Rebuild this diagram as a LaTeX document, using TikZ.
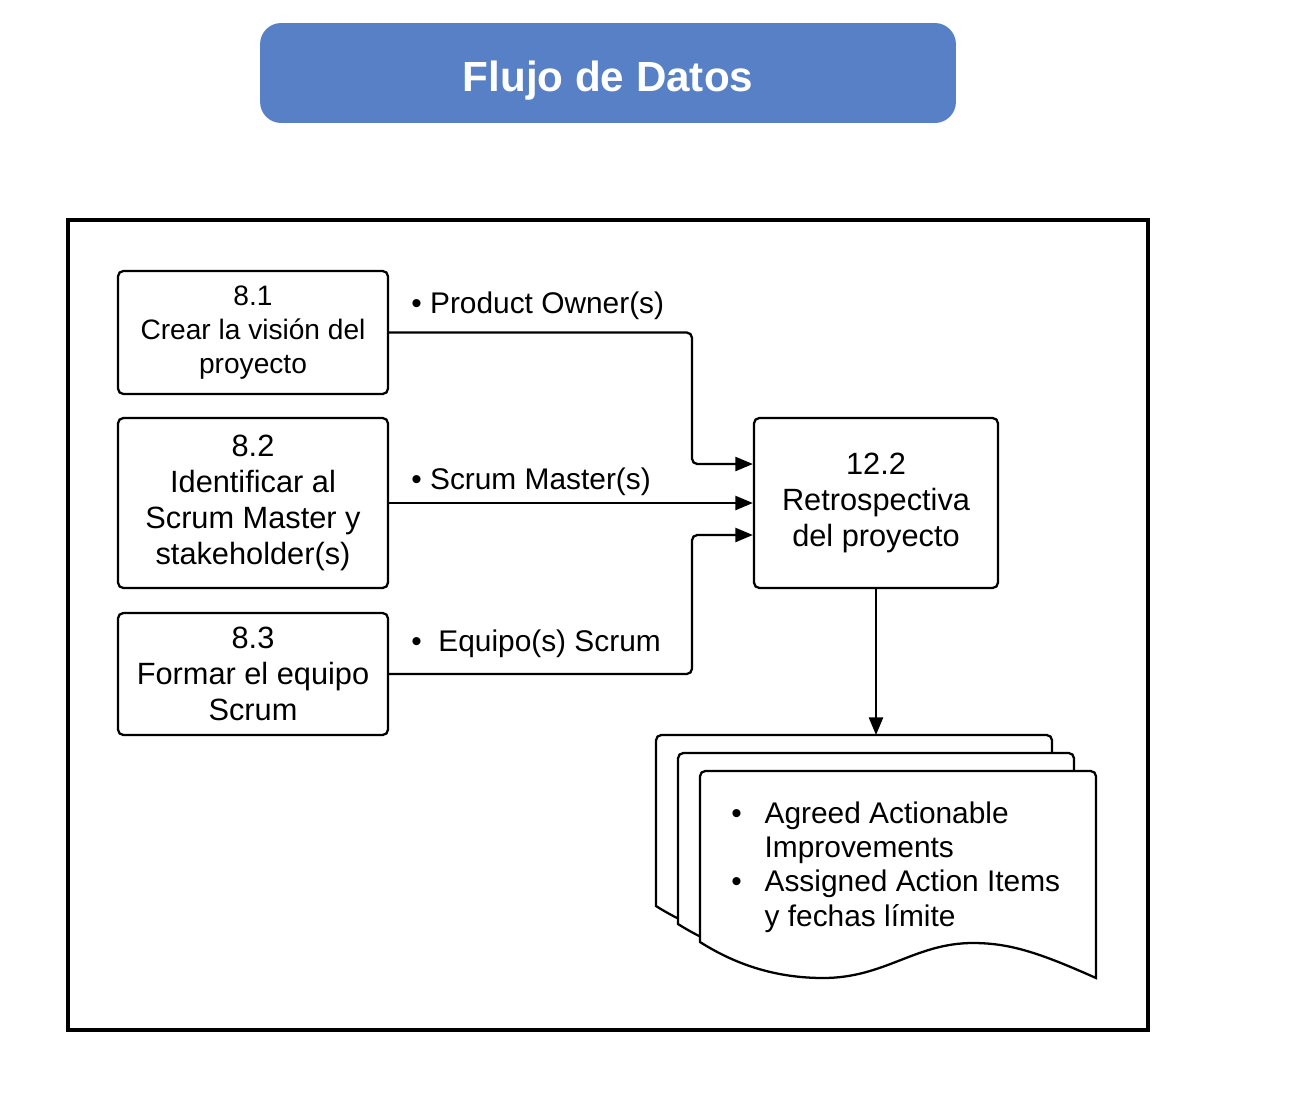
\documentclass[tikz,border=0pt]{standalone}
\usepackage{fontspec}
\setmainfont{Liberation Sans}
\usetikzlibrary{arrows.meta}
\definecolor{titleblue}{RGB}{88,128,198}
\begin{document}
\begin{tikzpicture}[x=0.02cm,y=-0.02cm,
  box/.style={draw, line width=1.3pt, rounded corners=3pt, align=center, inner sep=0pt,
    font=\fontsize{17.5}{20.5}\selectfont},
  lbl/.style={anchor=west, inner sep=0pt, font=\fontsize{17}{20}\selectfont},
  arr/.style={line width=1.3pt, rounded corners=3pt, -{Triangle[length=10pt,width=8pt]}},
  docst/.style={draw, fill=white, line width=1.3pt}]
\path[fill=white] (0,0) rectangle (1308,1092);
\useasboundingbox (0,0) rectangle (1308,1092);

% title
\node[fill=titleblue, rounded corners=12pt, minimum width=13.92cm, minimum height=2cm,
  text height=20.6pt, text depth=0pt,
  text=white, font=\bfseries\fontsize{24}{28}\selectfont] (title) at (608,73) {Flujo de Datos};

% frame
\draw[line width=2pt] (68,220) rectangle (1148,1030);

% process boxes
\node[box, minimum width=5.4cm, minimum height=2.46cm, font=\fontsize{16}{19.3}\selectfont]
  (b81) at (253,332.5) {8.1\\Crear la visión del\\proyecto};
\node[box, minimum width=5.4cm, minimum height=3.4cm] (b82) at (253,503)
  {8.2\\Identificar al\\Scrum Master y\\stakeholder(s)};
\node[box, minimum width=5.4cm, minimum height=2.44cm] (b83) at (253,674)
  {8.3\\Formar el equipo\\Scrum};
\node[box, minimum width=4.88cm, minimum height=3.4cm] (b122) at (876,503)
  {12.2\\Retrospectiva\\del proyecto};

% junction column
\coordinate (jx) at (692,0);

% connectors
\draw[arr] (b81.east) -- (b81.east -| jx) |- ([yshift=0.78cm]b122.west);
\draw[arr] (b82.east) -- (b82.east -| b122.west);
\draw[arr] (b83.east) -- (b83.east -| jx) |- ([yshift=-0.64cm]b122.west);

% labels
\node[lbl] (l1) at (411,306) {\textbullet\ Product Owner(s)};
\node[lbl] (l2) at (411,482) {\textbullet\ Scrum Master(s)};
\node[lbl] (l3) at (411,644) {\textbullet\ \ Equipo(s) Scrum};

% documents
\foreach \dx/\dy in {0/0, 22/18, 44/36} {
  \begin{scope}[shift={(656+\dx,735+\dy)}]
    \path[docst] (0,171) [rounded corners=3pt] -- (0,0) -- (396,0) [sharp corners] -- (396,207)
      .. controls (340,182) and (310,172) .. (273,172)
      .. controls (215,172) and (185,207) .. (123,207)
      .. controls (70,207) and (30,190) .. (0,171) -- cycle;
  \end{scope}
}
\coordinate (dtop) at (876,735);
\draw[arr] (b122.south) -- (dtop);

% document text
\node[anchor=north west, inner sep=0pt, font=\fontsize{17}{19.5}\selectfont] (dtext) at (731,799)
  {\begin{tabular}{@{}l@{\hspace{13pt}}l@{}}
   \textbullet & Agreed Actionable\\
               & Improvements\\
   \textbullet & Assigned Action Items\\
               & y fechas límite
   \end{tabular}};
\end{tikzpicture}
\end{document}
